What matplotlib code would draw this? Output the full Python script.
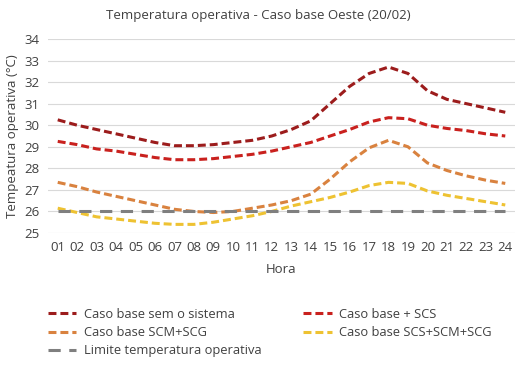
import numpy as np
import matplotlib
matplotlib.use('Agg')
import matplotlib.pyplot as plt

plt.rcParams['font.family'] = ['Open Sans', 'DejaVu Sans']

# data
horas = ['%02d' % h for h in range(1, 25)]
sem_sistema = [30.25, 30.0, 29.8, 29.6, 29.4, 29.2, 29.05, 29.05, 29.1, 29.2, 29.3, 29.5,
               29.8, 30.2, 31.0, 31.8, 32.4, 32.7, 32.4, 31.6, 31.2, 31.0, 30.8, 30.6]
base_scs = [29.25, 29.1, 28.9, 28.8, 28.65, 28.5, 28.4, 28.4, 28.45, 28.55, 28.65, 28.8,
            29.0, 29.2, 29.5, 29.8, 30.15, 30.35, 30.3, 30.0, 29.85, 29.75, 29.6, 29.5]
base_scm_scg = [27.35, 27.15, 26.9, 26.7, 26.5, 26.3, 26.1, 26.0, 25.95, 26.0, 26.15, 26.3,
                26.5, 26.8, 27.5, 28.3, 28.95, 29.3, 29.0, 28.25, 27.9, 27.65, 27.45, 27.3]
base_scs_scm_scg = [26.15, 25.95, 25.75, 25.65, 25.55, 25.45, 25.4, 25.4, 25.5, 25.65, 25.8, 26.0,
                    26.25, 26.45, 26.65, 26.9, 27.2, 27.35, 27.3, 26.95, 26.75, 26.6, 26.45, 26.3]
limite = [26] * 24

x = np.arange(1, 25)

fig = plt.figure(figsize=(5.28, 3.68), dpi=100)
ax = fig.add_axes([48 / 528, 1 - 233 / 368, (515 - 48) / 528, (233 - 39) / 368])

dash = (2.6, 1.3)
lw = 2.2
l1, = ax.plot(x, sem_sistema, color='#9C1C1C', lw=lw, dashes=dash, label='Caso base sem o sistema')
l2, = ax.plot(x, base_scs, color='#C9211E', lw=lw, dashes=dash, label='Caso base + SCS')
l3, = ax.plot(x, base_scm_scg, color='#D9823F', lw=lw, dashes=dash, label='Caso base SCM+SCG')
l4, = ax.plot(x, base_scs_scm_scg, color='#EEC232', lw=lw, dashes=dash, label='Caso base SCS+SCM+SCG')
l5, = ax.plot(x, limite, color='#7F7F7F', lw=lw, dashes=(4, 2.8), label='Limite temperatura operativa')

ax.set_xlim(0.5, 24.5)
ax.set_ylim(25, 34)
ax.set_yticks(range(25, 35))
ax.set_xticks(x)
ax.set_xticklabels(horas)
ax.tick_params(length=0, labelsize=9.5, colors='#404040', pad=6)
ax.yaxis.grid(True, color='#D9D9D9', lw=0.8)
ax.set_axisbelow(True)
for s in ax.spines.values():
    s.set_visible(False)

ax.set_xlabel('Hora', fontsize=9.5, color='#404040', labelpad=6)
ax.set_ylabel('Tempeatura operativa (°C)', fontsize=9.5, color='#404040', labelpad=4)
fig.text(0.49, 1 - 16 / 368, 'Temperatura operativa - Caso base Oeste (20/02)',
         ha='center', va='center', fontsize=9.5, color='#404040')

# legend filled column-wise, so reorder to get the row layout of the reference
handles = [l1, l3, l5, l2, l4]
ax.legend(handles, [h.get_label() for h in handles],
          loc='upper left', bbox_to_anchor=(48 / 528, 1 - 308 / 368),
          bbox_transform=fig.transFigure, ncol=2, frameon=False, fontsize=9.3,
          borderpad=0, borderaxespad=0,
          handlelength=2.2, columnspacing=3.2, labelspacing=0.4, handletextpad=0.6,
          labelcolor='#404040')

fig.savefig('out.png', dpi=100)
